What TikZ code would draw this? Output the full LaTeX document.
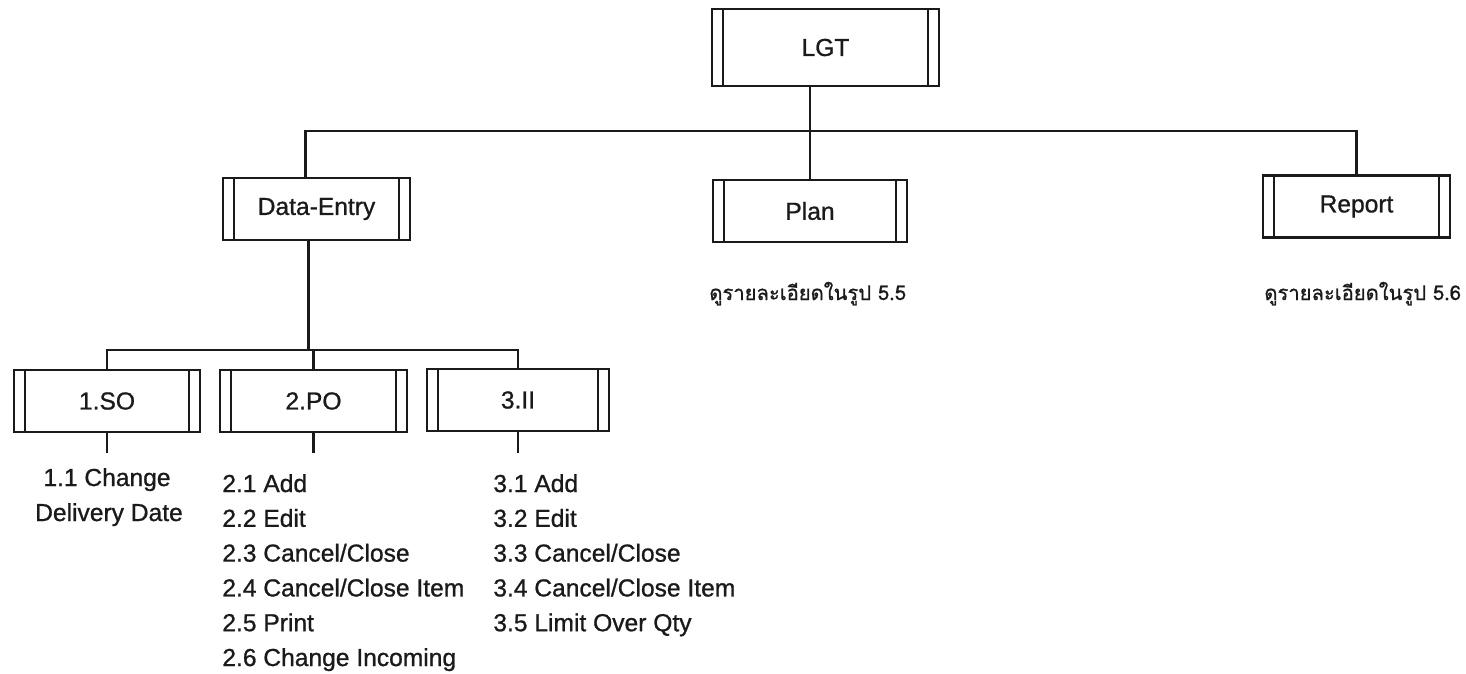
\documentclass[tikz,border=0pt]{standalone}
\usepackage{fontspec}
\setmainfont{Liberation Sans}
\newfontfamily\scanfont{Liberation Sans}[FakeBold=0.9]
\newfontfamily\thaifont[Script=Thai, FakeBold=0.9]{Loma}
\usepackage{tikz}
\definecolor{scanblack}{HTML}{1A1A1A}

\tikzset{
  procbox/.style={rectangle, draw=scanblack, text=scanblack, line width=1.5pt,
    minimum height=1.24cm, inner sep=0pt, font=\scanfont\fontsize{14}{17}\selectfont,
    path picture={\draw[scanblack, line width=1.2pt]
      ([xshift=0.22cm]path picture bounding box.north west) -- ([xshift=0.22cm]path picture bounding box.south west)
      ([xshift=-0.22cm]path picture bounding box.north east) -- ([xshift=-0.22cm]path picture bounding box.south east);}},
  link/.style={draw=scanblack, line width=1.3pt},
  menuitem/.style={anchor=base west, inner sep=0pt, text=scanblack,
    font=\scanfont\fontsize{14}{17}\selectfont},
  seenote/.style={anchor=base west, inner sep=0pt, text=scanblack,
    font=\thaifont\fontsize{11.5}{14}\selectfont}
}

\begin{document}
\begin{tikzpicture}[x=0.02cm, y=-0.02cm]
  \useasboundingbox (0,0) rectangle (1466,673);
  % module boxes: one root, three sub-systems, three data-entry programs
  \node[procbox, minimum width=4.54cm, minimum height=1.54cm] (lgt) at (825.5,47.5) {LGT};
  \node[procbox, minimum width=3.74cm] (entry) at (316.5,209) {Data-Entry};
  \node[procbox, minimum width=3.88cm] (plan) at (810,211) {Plan};
  \node[procbox, minimum width=3.74cm] (report) at (1356.5,206.5) {Report};
  \node[procbox, minimum width=3.72cm] (so) at (107,401) {1.SO};
  \node[procbox, minimum width=3.74cm] (po) at (313.5,401) {2.PO};
  \node[procbox, minimum width=3.64cm] (ii) at (518,400) {3.II};

  \node[seenote] (plannote) at (709,300) {ดูรายละเอียดในรูป 5.5};
  \node[seenote] (reportnote) at (1264,300) {ดูรายละเอียดในรูป 5.6};

  % menu items under each program
  \node[menuitem, anchor=base] (so1) at (107,486) {1.1 Change};
  \node[menuitem, anchor=base] (so2) at (109,521) {Delivery Date};
  \foreach \txt [count=\i] in {2.1 Add, 2.2 Edit, 2.3 Cancel/Close,
      2.4 Cancel/Close Item, 2.5 Print, 2.6 Change Incoming}
    \node[menuitem] (po\i) at (222,457.2+34.8*\i) {\txt};
  \foreach \txt [count=\i] in {3.1 Add, 3.2 Edit, 3.3 Cancel/Close,
      3.4 Cancel/Close Item, 3.5 Limit Over Qty}
    \node[menuitem] (ii\i) at (493,457.2+34.8*\i) {\txt};

  % tree lines
  \coordinate (bus1) at (0,131);
  \coordinate (bus2) at (0,350);
  \coordinate (tail) at (0,453);
  \draw[link] (lgt.south -| plan) -- (plan.north);
  \draw[link] ([xshift=-0.22cm]entry.north) -- ([xshift=-0.22cm]entry.north |- bus1)
    -- (report.north |- bus1) -- (report.north);
  \draw[link] ([xshift=-0.16cm]entry.south) -- ([xshift=-0.16cm]entry.south |- bus2);
  \draw[link] (so.north) -- (so.north |- bus2) -- (ii.north |- bus2) -- (ii.north);
  \draw[link] (po.north) -- (po.north |- bus2);
  \foreach \leaf in {so,po,ii}
    \draw[link] (\leaf.south) -- (\leaf.south |- tail);
\end{tikzpicture}
\end{document}
